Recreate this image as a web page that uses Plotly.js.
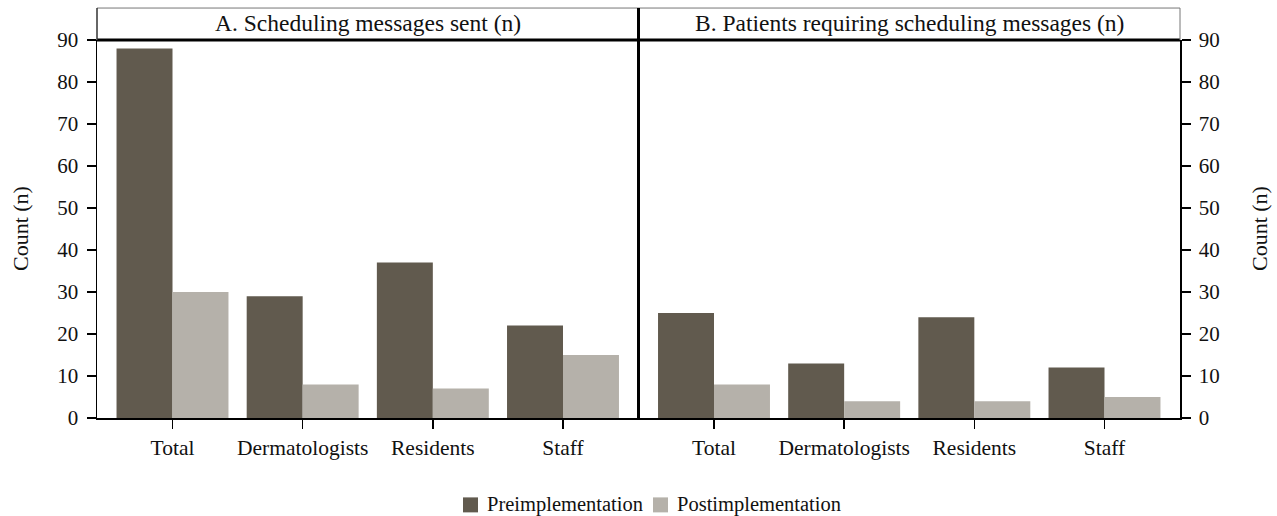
<!DOCTYPE html>
<html>
<head>
<meta charset="utf-8">
<script src="https://cdn.plot.ly/plotly-3.0.1.min.js"></script>
<style>html,body{margin:0;padding:0;background:#fff;}#chart{width:1277px;height:516px;}</style>
</head>
<body>
<div id="chart"></div>
<script>
const categories = ["Total", "Dermatologists", "Residents", "Staff"];
const preA = [88, 29, 37, 22];
const postA = [30, 8, 7, 15];
const preB = [25, 13, 24, 12];
const postB = [8, 4, 4, 5];
const yTicks = [0, 10, 20, 30, 40, 50, 60, 70, 80, 90];
const panelTitles = ["A. Scheduling messages sent (n)", "B. Patients requiring scheduling messages (n)"];
const seriesNames = ["Preimplementation", "Postimplementation"];

const dark = "#615a4e", light = "#b5b1aa";
const F = "Liberation Serif, Times New Roman, serif";

const traces = [
  {type:"bar", x:categories, y:preA, name:seriesNames[0], marker:{color:dark}, xaxis:"x", yaxis:"y"},
  {type:"bar", x:categories, y:postA, name:seriesNames[1], marker:{color:light}, xaxis:"x", yaxis:"y"},
  {type:"bar", x:categories, y:preB, name:seriesNames[0], marker:{color:dark}, xaxis:"x2", yaxis:"y2"},
  {type:"bar", x:categories, y:postB, name:seriesNames[1], marker:{color:light}, xaxis:"x2", yaxis:"y2"}
];

const W = 1277, H = 516, ML = 97, MR = 97, MT = 40, MB = 97.5;
const PW = W - ML - MR, PH = H - MT - MB;
const px = v => (v - ML) / PW;
const py = v => (H - MB - v) / PH;

const hTop = py(8);
const xCommon = {type:"category", range:[-0.58, 3.58], showline:true, linecolor:"#000", linewidth:2,
  ticks:"outside", ticklen:9, tickcolor:"#000", tickwidth:1.5, ticklabelstandoff:0,
  tickfont:{family:F, size:21.5, color:"#111"}, showgrid:false, zeroline:false, fixedrange:true};
const yCommon = {range:[0, 90], tickvals:yTicks, ticktext:yTicks.map(String), showline:true, linecolor:"#000", linewidth:1.5,
  ticks:"outside", ticklen:9, tickcolor:"#000", tickwidth:1.5, ticklabelstandoff:4,
  tickfont:{family:F, size:21, color:"#111"}, showgrid:false, zeroline:false, fixedrange:true};

const legendSquares = [
  {x0:px(463), x1:px(478), color:dark},
  {x0:px(653), x1:px(668), color:light}
];
const legendTextX = [px(485), px(675)];

const shapes = [
  {type:"line", xref:"paper", yref:"paper", x0:0, x1:1, y0:1, y1:1, line:{color:"#000", width:3}},
  {type:"line", xref:"paper", yref:"paper", x0:0, x1:1, y0:hTop, y1:hTop, line:{color:"#777", width:1}},
  {type:"line", xref:"paper", yref:"paper", x0:0, x1:0, y0:1, y1:hTop, line:{color:"#333", width:1.5}},
  {type:"line", xref:"paper", yref:"paper", x0:1, x1:1, y0:1, y1:hTop, line:{color:"#777", width:1}},
  {type:"line", xref:"paper", yref:"paper", x0:0.5, x1:0.5, y0:0, y1:hTop, line:{color:"#000", width:3}}
];
legendSquares.forEach(s => shapes.push({type:"rect", xref:"paper", yref:"paper", x0:s.x0, x1:s.x1, y0:py(513), y1:py(498), fillcolor:s.color, line:{width:0}}));

const annotations = [
  {text:panelTitles[0], x:0.25, y:py(23)},
  {text:panelTitles[1], x:0.75, y:py(23)}
].map(a => Object.assign(a, {xref:"paper", yref:"paper", xanchor:"center", yanchor:"middle", showarrow:false, font:{family:F, size:23.5, color:"#111"}}));
annotations.push(
  {text:"Count (n)", xref:"paper", yref:"paper", x:px(20), y:0.5, xanchor:"center", yanchor:"middle", textangle:-90, showarrow:false, font:{family:F, size:22, color:"#111"}},
  {text:"Count (n)", xref:"paper", yref:"paper", x:px(1259), y:0.5, xanchor:"center", yanchor:"middle", textangle:-90, showarrow:false, font:{family:F, size:22, color:"#111"}}
);
seriesNames.forEach((n, i) => annotations.push({text:n, xref:"paper", yref:"paper", x:legendTextX[i], y:py(505), xanchor:"left", yanchor:"middle", showarrow:false, font:{family:F, size:20.5, color:"#111"}}));

const layout = {
  width:W, height:H,
  margin:{l:ML, r:MR, t:MT, b:MB, autoexpand:false},
  paper_bgcolor:"#fff", plot_bgcolor:"#fff",
  barmode:"group", bargap:0.14, bargroupgap:0,
  font:{family:F, color:"#111"},
  xaxis: Object.assign({}, xCommon, {domain:[0, 0.5], anchor:"y"}),
  xaxis2: Object.assign({}, xCommon, {domain:[0.5, 1], anchor:"y2"}),
  yaxis: Object.assign({}, yCommon, {anchor:"x", side:"left"}),
  yaxis2: Object.assign({}, yCommon, {anchor:"x2", side:"right"}),
  showlegend:false,
  shapes:shapes,
  annotations:annotations
};

Plotly.newPlot("chart", traces, layout, {displayModeBar:false, staticPlot:true});
</script>
</body>
</html>
